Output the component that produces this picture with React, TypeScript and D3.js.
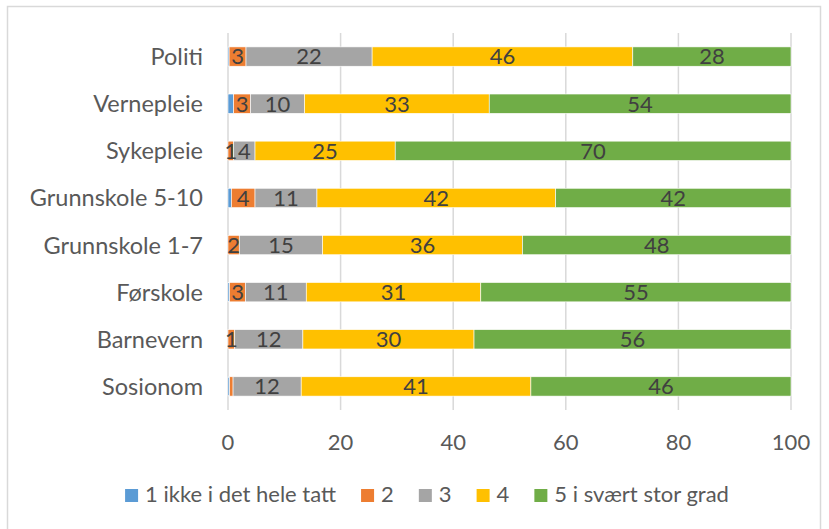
import React, { useRef, useEffect } from 'react';
import * as d3 from 'd3';

const categories = ['Politi', 'Vernepleie', 'Sykepleie', 'Grunnskole 5-10', 'Grunnskole 1-7', 'Førskole', 'Barnevern', 'Sosionom'];
const seriesNames = ['1 ikke i det hele tatt', '2', '3', '4', '5 i svært stor grad'];
const colors = ['#5B9BD5', '#ED7D31', '#A5A5A5', '#FFC000', '#70AD47'];

const s1 = [0.2, 1.0, 0, 0.6, 0, 0.3, 0, 0.3];
const s2 = [3.0, 3.0, 1.0, 4.2, 2.0, 2.8, 1.2, 0.6];
const s3 = [22.4, 9.6, 3.8, 11.0, 14.8, 10.8, 12.1, 12.1];
const s4 = [46.3, 32.8, 24.9, 42.4, 35.5, 31.0, 30.4, 40.8];
const s5 = [28.1, 53.6, 70.3, 41.8, 47.7, 55.1, 56.3, 46.2];

const xTicks = [0, 20, 40, 60, 80, 100];

const width = 829;
const height = 529;
const FONT = 'Lato, sans-serif';

const App: React.FC = () => {
  const svgRef = useRef<SVGSVGElement>(null);

  useEffect(() => {
    if (!svgRef.current) return;
    const svg = d3.select(svgRef.current);
    svg.selectAll('*').remove();

    const series = [s1, s2, s3, s4, s5];
    const rows = categories.map((c, i) => {
      const r: any = { cat: c };
      series.forEach((s, k) => (r['k' + k] = s[i]));
      return r;
    });
    const keys = series.map((_, k) => 'k' + k);
    const stacked = d3.stack().keys(keys)(rows);

    const x = d3.scaleLinear().domain([0, 100]).range([228, 791]);
    const y = d3.scaleBand().domain(categories).range([33, 410]).paddingInner(0.59).paddingOuter(0.295);

    // frame
    svg.append('rect')
      .attr('x', 7.5).attr('y', 6.5)
      .attr('width', 813).attr('height', 540)
      .attr('fill', 'white')
      .attr('stroke', '#d9d9d9')
      .attr('stroke-width', 1.5);

    // gridlines
    svg.append('g')
      .selectAll('line')
      .data(xTicks)
      .join('line')
      .attr('x1', d => x(d)).attr('x2', d => x(d))
      .attr('y1', 33).attr('y2', 410)
      .attr('stroke', '#d9d9d9')
      .attr('stroke-width', 1.5);

    // bars
    stacked.forEach((layer, k) => {
      svg.append('g')
        .selectAll('rect')
        .data(layer)
        .join('rect')
        .attr('x', d => x(d[0]))
        .attr('y', d => y((d.data as any).cat)!)
        .attr('width', d => Math.max(0, x(d[1]) - x(d[0])))
        .attr('height', y.bandwidth())
        .attr('fill', colors[k])
        .attr('stroke', d => (d[1] - d[0] > 0 ? 'white' : 'none'))
        .attr('stroke-width', 0.6);
    });

    // data labels
    stacked.forEach((layer, k) => {
      if (k === 0) return;
      svg.append('g')
        .selectAll('text')
        .data(layer.filter(d => d[1] - d[0] >= 0.9))
        .join('text')
        .attr('x', d => x((d[0] + d[1]) / 2))
        .attr('y', d => y((d.data as any).cat)! + y.bandwidth() / 2)
        .attr('dy', '0.36em')
        .attr('text-anchor', 'middle')
        .style('font-family', FONT)
        .style('font-size', '22px')
        .style('fill', '#404040')
        .text(d => Math.round(d[1] - d[0]));
    });

    // category labels
    svg.append('g')
      .selectAll('text')
      .data(categories)
      .join('text')
      .attr('x', 203)
      .attr('y', d => y(d)! + y.bandwidth() / 2)
      .attr('dy', '0.36em')
      .attr('text-anchor', 'end')
      .style('font-family', FONT)
      .style('font-size', '23.5px')
      .style('fill', '#595959')
      .text(d => d);

    // x tick labels
    svg.append('g')
      .selectAll('text')
      .data(xTicks)
      .join('text')
      .attr('x', d => x(d))
      .attr('y', 450)
      .attr('text-anchor', 'middle')
      .style('font-family', FONT)
      .style('font-size', '22px')
      .style('fill', '#595959')
      .text(d => d);

    // legend
    const legend = svg.append('g');
    const swatch = 13;
    const gapText = 7;
    const gapItem = 25;
    let cursor = 0;
    seriesNames.forEach((name, k) => {
      const item = legend.append('g').attr('transform', `translate(${cursor},0)`);
      item.append('rect')
        .attr('x', 0).attr('y', 489)
        .attr('width', swatch).attr('height', swatch)
        .attr('fill', colors[k]);
      const t = item.append('text')
        .attr('x', swatch + gapText)
        .attr('y', 502)
        .style('font-family', FONT)
        .style('font-size', '22px')
        .style('fill', '#595959')
        .text(name);
      const w = (t.node() as SVGTextElement).getComputedTextLength();
      cursor += swatch + gapText + w + gapItem;
    });
    const total = cursor - gapItem;
    legend.attr('transform', `translate(${427 - total / 2},0)`);
  }, []);

  return (
    <svg
      ref={svgRef}
      width={width}
      height={height}
      style={{ position: 'absolute', left: 0, top: 0, display: 'block' }}
    />
  );
};

export default App;
